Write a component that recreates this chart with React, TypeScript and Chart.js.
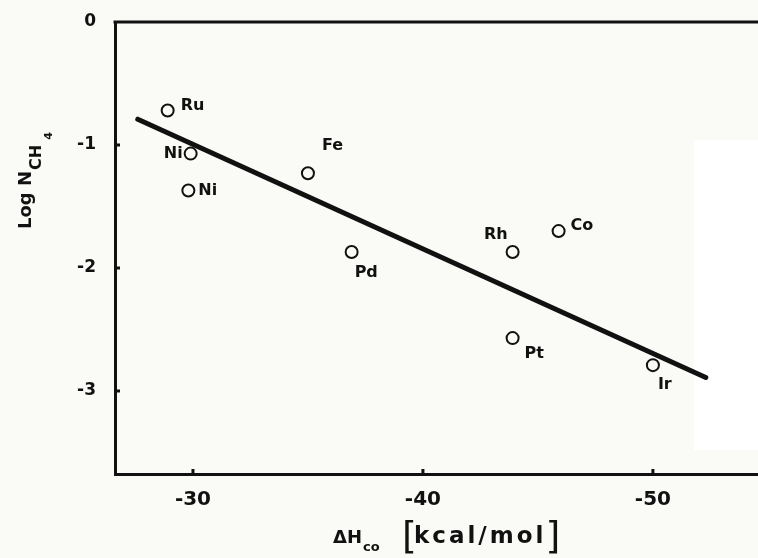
import React, { useEffect, useRef } from "react";
import { Chart, registerables } from "chart.js";

Chart.register(...registerables);

// ---- data ----
const metals = ["Ru", "Ni", "Ni", "Fe", "Pd", "Rh", "Co", "Pt", "Ir"];
const deltaHco = [-28.9, -29.9, -29.8, -35.0, -36.9, -43.9, -45.9, -43.9, -50.0];
const logNCH4 = [-0.72, -1.07, -1.37, -1.23, -1.87, -1.87, -1.70, -2.57, -2.79];
const fitX = [-27.6, -52.3];
const fitY = [-0.79, -2.89];
const xTicks = [-30, -40, -50];
const yTicks = [0, -1, -2, -3];
const xRange = [-54.57, -26.61];
const yRange = [-3.675, 0];

// ---- styling (label placement relative to each marker) ----
const labelPlacement: { dx: number; dy: number; align: CanvasTextAlign }[] = [
  { dx: 13, dy: -4.5, align: "left" },
  { dx: -8, dy: 0.5, align: "right" },
  { dx: 10, dy: 0.5, align: "left" },
  { dx: 14, dy: -27, align: "left" },
  { dx: 3, dy: 21, align: "left" },
  { dx: -5, dy: -17, align: "right" },
  { dx: 12, dy: -5, align: "left" },
  { dx: 12, dy: 16, align: "left" },
  { dx: 5, dy: 20, align: "left" },
];

const FONT = '"DejaVu Sans", "Liberation Sans", sans-serif';
const INK = "#111111";
const BG = "#fafaf7";

const decorPlugin = {
  id: "decor",
  beforeDraw(chart: any) {
    const { ctx, width, height } = chart;
    ctx.save();
    ctx.fillStyle = BG;
    ctx.fillRect(0, 0, width, height);
    ctx.fillStyle = "#ffffff";
    ctx.fillRect(694, 140, width - 694, 310);
    ctx.restore();
  },
  afterDatasetsDraw(chart: any) {
    const { ctx, chartArea, scales } = chart;
    const xs = scales.x;
    const ys = scales.y;
    ctx.save();
    ctx.strokeStyle = INK;
    ctx.lineWidth = 3;
    // top frame line
    ctx.beginPath();
    ctx.moveTo(chartArea.left - 1.5, chartArea.top);
    ctx.lineTo(chartArea.right, chartArea.top);
    ctx.stroke();
    // inward ticks
    yTicks.forEach((v) => {
      if (v === yRange[1]) return;
      const py = ys.getPixelForValue(v);
      ctx.beginPath();
      ctx.moveTo(chartArea.left, py);
      ctx.lineTo(chartArea.left + 5, py);
      ctx.stroke();
    });
    xTicks.forEach((v) => {
      const px = xs.getPixelForValue(v);
      ctx.beginPath();
      ctx.moveTo(px, chartArea.bottom);
      ctx.lineTo(px, chartArea.bottom - 5);
      ctx.stroke();
    });

    // point labels
    const meta = chart.getDatasetMeta(0);
    ctx.fillStyle = INK;
    ctx.font = `bold 16px ${FONT}`;
    ctx.textBaseline = "middle";
    meta.data.forEach((el: any, i: number) => {
      const p = labelPlacement[i];
      ctx.textAlign = p.align;
      ctx.fillText(metals[i], el.x + p.dx, el.y + p.dy);
    });

    // y-axis title: Log N_CH4 (rotated)
    ctx.save();
    ctx.translate(31, 229);
    ctx.rotate(-Math.PI / 2);
    ctx.textAlign = "left";
    ctx.textBaseline = "alphabetic";
    ctx.font = `bold 18px ${FONT}`;
    ctx.fillText("Log N", 0, 0);
    const w1 = ctx.measureText("Log N").width;
    ctx.font = `bold 16px ${FONT}`;
    ctx.fillText("CH", w1 + 1, 10);
    const w2 = ctx.measureText("CH").width;
    ctx.font = `bold 11px ${FONT}`;
    ctx.fillText("4", w1 + w2 + 6, 21);
    ctx.restore();

    // x-axis title: ΔH_co [kcal/mol]
    ctx.textAlign = "left";
    ctx.textBaseline = "alphabetic";
    ctx.font = `bold 18px ${FONT}`;
    ctx.fillText("ΔH", 333, 543);
    const wd = ctx.measureText("ΔH").width;
    ctx.font = `bold 13px ${FONT}`;
    ctx.fillText("co", 333 + wd + 1, 551);
    ctx.font = `38px ${FONT}`;
    ctx.fillText("[", 402, 548);
    ctx.font = `bold 23px ${FONT}`;
    (ctx as any).letterSpacing = "3px";
    ctx.fillText("kcal/mol", 414, 543);
    const wk = ctx.measureText("kcal/mol").width;
    (ctx as any).letterSpacing = "0px";
    ctx.font = `38px ${FONT}`;
    ctx.fillText("]", 414 + wk - 1, 548);
    ctx.restore();
  },
};

const zeroPad = (s: any) => {
  s.paddingTop = 0;
  s.paddingBottom = 0;
  s.paddingLeft = 0;
  s.paddingRight = 0;
};

export default function App() {
  const ref = useRef<HTMLCanvasElement | null>(null);

  useEffect(() => {
    document.body.style.margin = "0";
    document.body.style.background = BG;
    const canvas = ref.current;
    if (!canvas) return;
    const points = deltaHco.map((x, i) => ({ x, y: logNCH4[i] }));
    const fit = fitX.map((x, i) => ({ x, y: fitY[i] }));
    const chart = new Chart(canvas, {
      type: "scatter",
      data: {
        datasets: [
          {
            label: "metals",
            data: points,
            pointStyle: "circle",
            pointRadius: 6,
            pointBorderWidth: 2,
            pointBorderColor: INK,
            pointBackgroundColor: "rgba(0,0,0,0)",
            showLine: false,
          },
          {
            label: "fit",
            data: fit,
            showLine: true,
            borderColor: INK,
            borderWidth: 5,
            borderCapStyle: "round",
            pointRadius: 0,
          },
        ],
      },
      options: {
        responsive: false,
        animation: false,
        devicePixelRatio: 1,
        layout: { autoPadding: false, padding: { top: 22, right: 0, left: 0, bottom: 0 } },
        plugins: { legend: { display: false }, tooltip: { enabled: false } },
        events: [],
        scales: {
          x: {
            type: "linear",
            reverse: true,
            min: xRange[0],
            max: xRange[1],
            afterBuildTicks: (s: any) => {
              s.ticks = xTicks.map((v) => ({ value: v }));
            },
            afterFit: (s: any) => {
              s.height = 84;
              zeroPad(s);
            },
            grid: { display: false, drawTicks: false },
            border: { display: true, color: INK, width: 3 },
            ticks: {
              color: INK,
              font: { family: FONT, size: 20, weight: "bold" },
              padding: 14,
              maxRotation: 0,
              callback: (v: any) => String(v),
            },
          },
          y: {
            type: "linear",
            min: yRange[0],
            max: yRange[1],
            afterBuildTicks: (s: any) => {
              s.ticks = yTicks.map((v) => ({ value: v }));
            },
            afterFit: (s: any) => {
              s.width = 115;
              zeroPad(s);
            },
            grid: { display: false, drawTicks: false },
            border: { display: true, color: INK, width: 3 },
            ticks: {
              color: INK,
              font: { family: FONT, size: 17, weight: "bold" },
              padding: 19,
              callback: (v: any) => String(v),
            },
          },
        },
      },
      plugins: [decorPlugin],
    } as any);
    return () => chart.destroy();
  }, []);

  return (
    <div style={{ width: 758, height: 558, background: BG }}>
      <canvas ref={ref} width={758} height={558} style={{ display: "block" }} />
    </div>
  );
}
